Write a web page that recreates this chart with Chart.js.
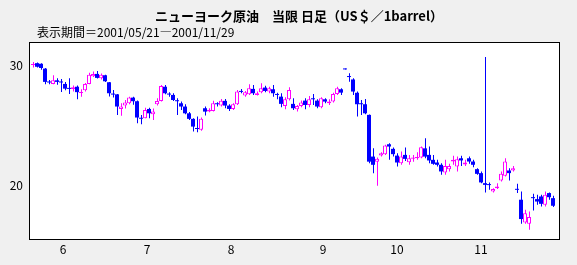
<!DOCTYPE html>
<html>
<head>
<meta charset="utf-8">
<script src="https://cdn.jsdelivr.net/npm/chart.js@4"></script>
<style>
  html, body { margin: 0; padding: 0; background: #f0f0f0; }
  #wrap { position: relative; width: 577px; height: 265px; overflow: hidden; }
  #title {
    position: absolute; left: 155px; top: 8px; white-space: nowrap;
    font: bold 13px "Noto Sans CJK JP"; line-height: 15px; color: #000;
  }
  #period {
    position: absolute; left: 37px; top: 24px; white-space: nowrap;
    font: 12px "Noto Sans CJK JP"; line-height: 15px; color: #000;
  }
  canvas { position: absolute; left: 0; top: 0; }
</style>
</head>
<body>
<div id="wrap">
  <canvas id="candles" width="577" height="265"></canvas>
  <div id="title">ニューヨーク原油　当限 日足（US＄／1barrel）</div>
  <div id="period">表示期間＝2001/05/21―2001/11/29</div>
</div>
<script>
// ---- daily prices, 2001/05/21 - 2001/11/29 ----
const opens = [
  30.0, 30.15, 30.1, 29.7, 28.6, 28.43, 28.73, 28.6, 28.43, 28.08,
  28.02, 28.2, 27.67, 27.9, 28.43, 29.06, 29.26, 28.9, 29.15, 28.57,
  27.6, 27.57, 26.36, 26.64, 26.83, 27.3, 27.0, 25.6, 25.6, 26.36,
  25.92, 26.75, 27.02, 28.2, 27.6, 27.52, 27.05, 26.83, 26.56, 26.0,
  25.54, 24.75, 24.63, 26.42, 26.14, 26.2, 26.8, 26.64, 27.03, 26.64,
  26.36, 26.75, 27.8, 27.47, 27.58, 28.02, 27.52, 27.74, 28.13, 27.8,
  27.99, 27.55, 27.38, 26.61, 27.16, 26.78, 26.34, 26.61, 27.05, 26.69,
  27.2, 27.05, 26.5, 27.16, 26.83, 26.97, 27.6, 27.99, 29.65, 29.05,
  28.8, 27.7, 26.8, 26.75, 25.87, 22.42, 22.0, 22.5, 22.62, 23.44,
  23.06, 22.5, 21.87, 22.56, 21.96, 22.23, 22.28, 22.34, 23.1, 22.56,
  22.15, 21.93, 21.74, 21.11, 21.38, 22.01, 21.6, 22.28, 21.76, 22.28,
  22.01, 21.38, 21.05, 20.22, 20.1, 19.53, 19.8, 20.44, 20.83, 21.27,
  21.27, 19.7, 18.85, 16.97, 16.86, 19.03, 18.9, 19.12, 18.43, 19.4,
  18.98
];
const highs = [
  30.25, 30.2, 30.15, 29.75, 28.75, 29.15, 28.9, 28.84, 28.6, 28.9,
  28.3, 28.3, 28.0, 28.5, 29.35, 29.45, 29.5, 29.3, 29.2, 28.6,
  27.93, 27.6, 26.83, 27.1, 27.38, 27.38, 27.05, 25.87, 26.47, 26.47,
  26.4, 27.25, 28.35, 28.35, 27.75, 27.66, 27.25, 26.97, 26.75, 26.1,
  25.6, 25.73, 25.65, 26.56, 26.42, 27.03, 26.92, 27.19, 27.19, 26.75,
  26.83, 27.93, 28.02, 27.85, 28.4, 28.35, 27.8, 28.48, 28.29, 28.2,
  28.35, 27.71, 27.66, 27.33, 28.15, 27.25, 26.69, 27.05, 27.25, 27.44,
  27.6, 27.16, 27.33, 27.25, 27.16, 27.71, 28.2, 28.07, 29.65, 29.31,
  28.9, 27.8, 27.1, 27.19, 25.9, 23.1, 22.34, 22.78, 23.39, 23.53,
  23.17, 22.7, 22.84, 23.17, 22.56, 22.56, 22.78, 23.25, 23.94, 23.25,
  22.56, 22.15, 21.87, 22.15, 21.82, 22.48, 22.42, 22.48, 22.15, 22.42,
  22.15, 21.46, 21.19, 30.66, 20.28, 19.8, 20.22, 21.18, 22.29, 21.46,
  21.65, 20.17, 19.53, 18.02, 17.88, 19.34, 19.26, 19.26, 19.53, 19.45,
  19.18
];
const lows = [
  29.8, 29.8, 29.6, 28.4, 28.4, 28.4, 28.37, 27.77, 27.9, 27.6,
  27.8, 27.17, 27.36, 27.8, 28.4, 29.0, 28.87, 28.8, 28.6, 27.4,
  27.3, 25.87, 25.8, 26.4, 26.75, 26.7, 25.18, 25.1, 25.6, 25.6,
  25.45, 26.64, 26.97, 27.57, 27.38, 27.02, 25.87, 26.28, 25.92, 25.45,
  24.5, 24.43, 24.55, 25.81, 26.09, 26.14, 26.56, 26.56, 26.42, 26.2,
  26.28, 26.69, 27.66, 27.38, 27.52, 27.52, 27.47, 27.66, 27.74, 27.66,
  27.38, 27.16, 26.5, 26.34, 27.05, 26.28, 26.14, 26.5, 26.34, 26.5,
  26.69, 26.42, 26.42, 26.83, 26.69, 26.89, 27.52, 27.52, 29.63, 28.62,
  27.52, 25.73, 25.87, 25.92, 21.87, 21.05, 20.0, 22.42, 22.56, 22.15,
  22.42, 21.6, 21.74, 22.06, 21.74, 22.0, 22.15, 22.28, 22.28, 21.87,
  21.74, 21.6, 20.91, 20.91, 21.19, 21.74, 21.19, 21.65, 21.65, 21.82,
  21.54, 20.91, 20.22, 19.45, 19.67, 19.45, 19.73, 20.36, 20.77, 20.44,
  21.18, 19.4, 16.86, 16.86, 16.36, 17.96, 18.43, 18.29, 18.29, 18.84,
  18.24
];
const closes = [
  30.05, 29.85, 29.75, 28.6, 28.55, 28.73, 28.6, 28.55, 28.04, 28.02,
  28.16, 27.75, 27.75, 28.43, 29.2, 29.26, 28.93, 29.2, 28.65, 27.66,
  27.55, 26.56, 26.56, 26.9, 27.3, 27.0, 25.65, 25.55, 26.28, 26.0,
  26.14, 27.02, 28.26, 27.66, 27.55, 27.1, 27.0, 26.56, 26.0, 25.54,
  24.9, 24.7, 25.54, 26.14, 26.3, 26.83, 26.75, 27.03, 26.64, 26.36,
  26.75, 27.8, 27.77, 27.74, 28.07, 27.66, 27.66, 28.07, 27.85, 28.07,
  27.66, 27.52, 26.78, 27.16, 27.93, 26.42, 26.61, 26.89, 26.69, 27.16,
  27.16, 26.56, 27.25, 26.97, 26.97, 27.6, 28.07, 27.71, 29.63, 29.0,
  27.8, 26.75, 26.75, 26.0, 22.0, 21.74, 22.23, 22.7, 23.33, 23.25,
  22.62, 21.93, 22.42, 22.23, 22.28, 22.34, 22.39, 23.2, 22.42, 22.1,
  21.82, 21.74, 21.19, 21.65, 21.65, 22.15, 22.2, 22.1, 21.93, 22.01,
  21.74, 20.99, 20.28, 20.08, 20.06, 19.73, 19.94, 20.99, 22.01, 21.05,
  21.46, 19.67, 17.25, 17.74, 17.41, 18.98, 18.7, 18.51, 19.26, 19.06,
  18.35
];

// ---- axis labels ----
const monthTicks  = [7.5, 28.5, 49.5, 72.5, 91, 112];
const monthLabels = ['6', '7', '8', '9', '10', '11'];
const priceTicks  = [20, 30];

const UP_COLOR   = '#ff00ff';
const DOWN_COLOR = '#0000ff';

// ---- split into candle parts ----
const upBodies = [], downBodies = [], wicks = [], wickColors = [];
opens.forEach((o, i) => {
  const c = closes[i];
  const up = c >= o;
  (up ? upBodies : downBodies).push({ x: i, y: [o, c] });
  wicks.push({ x: i, y: [lows[i], highs[i]] });
  wickColors.push(up ? UP_COLOR : DOWN_COLOR);
});

// white plot area with black frame
const framePlugin = {
  id: 'frame',
  beforeDatasetsDraw(chart) {
    const a = chart.chartArea, g = chart.ctx;
    g.save();
    g.fillStyle = '#ffffff';
    g.fillRect(a.left, a.top, a.right - a.left, a.bottom - a.top);
    g.restore();
  },
  afterDraw(chart) {
    const a = chart.chartArea, g = chart.ctx;
    g.save();
    g.strokeStyle = '#000000';
    g.lineWidth = 1;
    g.strokeRect(a.left + 0.5, a.top + 0.5, a.right - a.left, a.bottom - a.top);
    g.restore();
  }
};

const tickFont = { family: 'Noto Sans CJK JP', size: 12 };

new Chart(document.getElementById('candles'), {
  type: 'bar',
  data: {
    datasets: [
      {
        label: 'up',
        data: upBodies,
        backgroundColor: '#ffffff',
        borderColor: UP_COLOR,
        borderWidth: 1,
        borderSkipped: false,
        barThickness: 4,
        minBarLength: 1,
        inflateAmount: 0,
        grouped: false
      },
      {
        label: 'down',
        data: downBodies,
        backgroundColor: DOWN_COLOR,
        borderWidth: 0,
        barThickness: 4,
        minBarLength: 1,
        inflateAmount: 0,
        grouped: false
      },
      {
        label: 'wick',
        data: wicks,
        xAxisID: 'xw',
        backgroundColor: wickColors,
        borderWidth: 0,
        barThickness: 1,
        minBarLength: 1,
        inflateAmount: 0,
        grouped: false
      }
    ]
  },
  options: {
    responsive: false,
    animation: false,
    layout: { padding: { top: 42, right: 18, left: 0, bottom: 0 } },
    plugins: { legend: { display: false }, tooltip: { enabled: false } },
    scales: {
      x: {
        type: 'linear',
        offset: false,
        min: -1,
        max: 131.5,
        grid: { display: false, drawTicks: false },
        border: { display: false },
        afterBuildTicks: s => { s.ticks = monthTicks.map(v => ({ value: v })); },
        afterFit: s => { s.height = 26; },
        ticks: {
          autoSkip: false,
          maxRotation: 0,
          padding: 3,
          color: '#000',
          font: tickFont,
          callback: (v, i) => monthLabels[i]
        }
      },
      xw: { type: 'linear', display: false, offset: false, min: -1.125, max: 131.375 },
      y: {
        min: 15.6,
        max: 31.9,
        grid: { display: false, drawTicks: false },
        border: { display: false },
        afterBuildTicks: s => { s.ticks = priceTicks.map(v => ({ value: v })); },
        afterFit: s => { s.width = 29; },
        ticks: { padding: 6, color: '#000', font: tickFont }
      }
    }
  },
  plugins: [framePlugin]
});
</script>
</body>
</html>
